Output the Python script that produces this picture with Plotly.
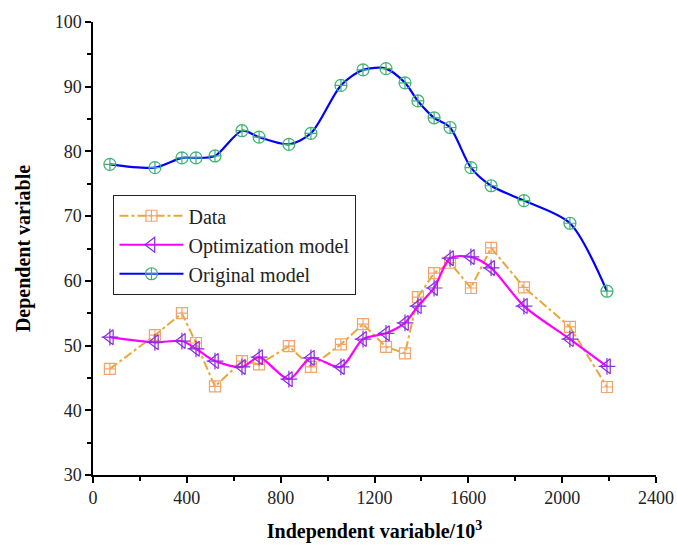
import plotly.graph_objects as go

x_vals = [72, 264, 379, 439, 520, 635, 708, 835, 929, 1057, 1151, 1249, 1330,
          1385, 1454, 1522, 1611, 1697, 1837, 2033, 2191]
data_y = [46.4, 51.6, 55.0, 50.4, 43.7, 47.6, 47.1, 49.9, 46.7, 50.2, 53.3,
          49.8, 48.8, 57.5, 61.2, 62.8, 58.9, 65.1, 59.0, 52.9, 43.6]
optim_y = [51.3, 50.5, 50.7, 49.5, 47.6, 46.7, 48.2, 44.8, 48.1, 46.7, 51.0,
           51.9, 53.5, 56.1, 58.9, 63.5, 63.7, 62.0, 56.1, 51.0, 46.8]
orig_y = [78.0, 77.5, 79.0, 79.0, 79.3, 83.2, 82.2, 81.1, 82.8, 90.2, 92.6,
          92.8, 90.6, 87.8, 85.2, 83.7, 77.5, 74.7, 72.4, 68.9, 58.4]

x_ticks = [0, 400, 800, 1200, 1600, 2000, 2400]
y_ticks = [30, 40, 50, 60, 70, 80, 90, 100]

FONT = "Liberation Serif"

fig = go.Figure()

fig.add_trace(go.Scatter(
    x=x_vals, y=data_y, name="Data", mode="lines+markers",
    line=dict(color="#E8A838", width=2, dash="dashdot"),
    marker=dict(symbol="square-cross-open", size=11, color="#F4A46A",
                line=dict(width=1.2, color="#F4A46A")),
))
fig.add_trace(go.Scatter(
    x=x_vals, y=optim_y, name="Optimization model", mode="lines+markers",
    line=dict(color="#FF00FF", width=2.2, shape="spline", smoothing=0.8),
    marker=dict(symbol="triangle-left-open", size=13, color="#8A2BE2",
                line=dict(width=1.2, color="#8A2BE2")),
))
fig.add_trace(go.Scatter(
    x=x_vals, y=optim_y, mode="markers", showlegend=False, hoverinfo="skip",
    marker=dict(symbol="cross-thin-open", size=12, color="#8A2BE2",
                line=dict(width=1.2, color="#8A2BE2")),
))
fig.add_trace(go.Scatter(
    x=x_vals, y=orig_y, name="Original model", mode="lines+markers",
    line=dict(color="#0000FF", width=2.2, shape="spline", smoothing=0.8),
    marker=dict(symbol="circle-cross-open", size=12, color="#3CB371",
                line=dict(width=1.2, color="#3CB371")),
))

axis_common = dict(
    showline=True, linecolor="black", linewidth=1.5, mirror=False,
    showgrid=False, zeroline=False, ticks="outside", ticklen=6,
    tickwidth=1.5, tickcolor="black", automargin=False,
    tickfont=dict(family=FONT, size=18, color="#222"),
)

fig.update_layout(
    width=677, height=545,
    margin=dict(l=93, r=21, t=22, b=70),
    paper_bgcolor="white", plot_bgcolor="white",
    font=dict(family=FONT),
    xaxis=dict(range=[0, 2400], tickvals=x_ticks,
               minor=dict(dtick=200, ticks="outside", ticklen=4, tickwidth=1.5,
                          tickcolor="black"),
               title=dict(text="<b>Independent variable/10<sup>3</sup></b>",
                          font=dict(family=FONT, size=20, color="black"),
                          standoff=17),
               **axis_common),
    yaxis=dict(range=[30, 100], tickvals=y_ticks,
               minor=dict(dtick=5, ticks="outside", ticklen=4, tickwidth=1.5,
                          tickcolor="black"),
               title=dict(text="<b>Dependent variable</b>",
                          font=dict(family=FONT, size=20, color="black"),
                          standoff=19),
               **axis_common),
    legend=dict(x=0.036, y=0.618, xanchor="left", yanchor="top",
                bordercolor="#222", borderwidth=1.2, bgcolor="white",
                itemwidth=64,
                font=dict(family=FONT, size=20, color="#222")),
)

fig.write_html("out.html")
